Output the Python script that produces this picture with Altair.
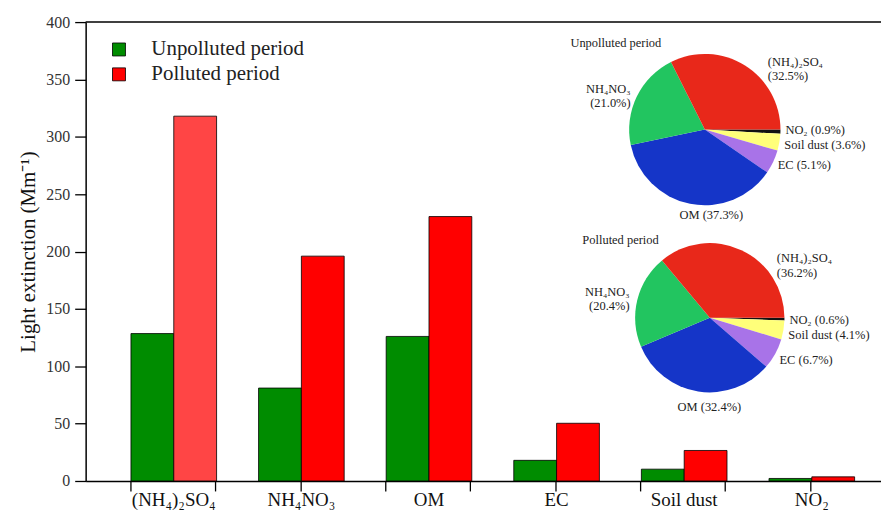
import math
import altair as alt
import pandas as pd

# ---------------- data ----------------
categories = ["(NH₄)₂SO₄", "NH₄NO₃", "OM", "EC", "Soil dust", "NO₂"]
unpolluted = [128.5, 81, 126, 18, 10.3, 2.2]
polluted = [318, 196, 230.5, 50.3, 26.6, 3.6]
periods = ["Unpolluted period", "Polluted period"]

pie_components = ["NO₂", "Soil dust", "EC", "OM", "NH₄NO₃", "(NH₄)₂SO₄"]
pie_unpolluted = [0.9, 3.6, 5.1, 37.3, 21.0, 32.5]
pie_polluted = [0.6, 4.1, 6.7, 32.4, 20.4, 36.2]

x_tick_marks = list(range(9))
y_ticks = list(range(0, 401, 50))

SERIF = "Liberation Serif"
BAR_COLORS = ["#008C00", "#FF0000"]
PIE_COLORS = ["#111111", "#FFFF7A", "#A873E8", "#1535C8", "#22C560", "#E8281A"]
PIE_FS = 12.5

# ---------------- bars ----------------
rows = []
for c, u, p in zip(categories, unpolluted, polluted):
    rows.append({"category": c, "period": periods[0], "value": u})
    rows.append({"category": c, "period": periods[1], "value": p})
bar_df = pd.DataFrame(rows)

bars = alt.Chart(bar_df).mark_bar(stroke="black", strokeWidth=0.8).encode(
    x=alt.X(
        "category:N", sort=categories,
        scale=alt.Scale(paddingInner=0.329, paddingOuter=0.281, align=0.632),
        axis=alt.Axis(title=None, ticks=False, labelAngle=0, labelFont=SERIF,
                      labelFontSize=19, labelColor="#111", labelPadding=10,
                      domainColor="black", domainWidth=1.5, grid=False),
    ),
    xOffset=alt.XOffset("period:N", sort=periods,
                        scale=alt.Scale(paddingInner=0, paddingOuter=0)),
    y=alt.Y(
        "value:Q", scale=alt.Scale(domain=[0, 400], nice=False),
        axis=alt.Axis(values=y_ticks, title="Light extinction (Mm⁻¹)", grid=False,
                      tickSize=11, tickColor="black", tickWidth=1.3, labelPadding=5,
                      labelFont=SERIF, labelFontSize=16, labelColor="#333",
                      titleFont=SERIF, titleFontSize=21, titleFontWeight="normal",
                      titleColor="#111", titlePadding=7,
                      domainColor="black", domainWidth=1.5),
    ),
    fill=alt.condition(
        (alt.datum.category == categories[0]) & (alt.datum.period == periods[1]),
        alt.value("#FF4545"),
        alt.Fill("period:N", sort=periods,
                 scale=alt.Scale(domain=periods, range=BAR_COLORS),
                 legend=alt.Legend(title=None, orient="none", legendX=23, legendY=17,
                                   symbolType="square", symbolSize=170,
                                   symbolStrokeColor="black", symbolStrokeWidth=0.8,
                                   labelFont=SERIF, labelFontSize=21, labelColor="#222",
                                   labelOffset=22, rowPadding=3, padding=0)),
    ),
)

tick_df = pd.DataFrame({"t": x_tick_marks})
ticks = alt.Chart(tick_df).mark_point(opacity=0).encode(
    x=alt.X("t:Q", scale=alt.Scale(domain=[-0.5274, 8.836], nice=False, zero=False),
            axis=alt.Axis(orient="bottom", values=x_tick_marks, labels=False,
                          domain=False, grid=False, ticks=True, tickSize=10,
                          tickColor="black", tickWidth=1.3, title=None)),
)

top_rule = alt.Chart(pd.DataFrame({"a": [0]})).mark_rule(
    color="black", strokeWidth=1.5).encode(y=alt.value(0))


# ---------------- pies ----------------
def pie_layers(values, cx, cy, r, title, title_dx, title_dy, adj):
    total = sum(values)
    mids, acc = [], 0.0
    for v in values:
        mids.append(acc + v / 2)
        acc += v
    labels = []
    for comp, v in zip(pie_components, values):
        if comp in ("(NH₄)₂SO₄", "NH₄NO₃"):
            labels.append(f"{comp}\n({v:.1f}%)")
        else:
            labels.append(f"{comp} ({v:.1f}%)")
    df = pd.DataFrame({"component": pie_components, "pct": values,
                       "ord": list(range(len(values))), "mid": mids, "label": labels})
    tscale = alt.Scale(domain=[0, total], range=[math.pi / 2, math.pi / 2 + 2 * math.pi])
    arc = alt.Chart(df).mark_arc(radius=r).encode(
        theta=alt.Theta("pct:Q", stack=True, scale=tscale),
        order=alt.Order("ord:Q"),
        color=alt.Color("component:N", scale=alt.Scale(domain=pie_components, range=PIE_COLORS),
                        legend=None),
        x=alt.value(cx), y=alt.value(cy),
    )
    layers = [arc]
    aligns = {"NO₂": "left", "Soil dust": "left", "EC": "left",
              "(NH₄)₂SO₄": "left", "NH₄NO₃": "right", "OM": "center"}
    for comp in pie_components:
        rad, dx, dy = adj[comp]
        t = alt.Chart(df).transform_filter(
            alt.FieldEqualPredicate(field="component", equal=comp)
        ).mark_text(radius=rad, align=aligns[comp], baseline="middle", dx=dx, dy=dy,
                    font=SERIF, fontSize=PIE_FS, color="#222", lineBreak="\n",
                    lineHeight=14.5).encode(
            theta=alt.Theta("mid:Q", stack=False, scale=tscale),
            text="label:N",
            x=alt.value(cx), y=alt.value(cy),
        )
        layers.append(t)
    ttl = alt.Chart(pd.DataFrame({"t": [title]})).mark_text(
        align="left", baseline="middle", font=SERIF, fontSize=PIE_FS, color="#222"
    ).encode(x=alt.value(cx + title_dx), y=alt.value(cy + title_dy), text="t:N")
    layers.append(ttl)
    return layers


pie1 = pie_layers(pie_unpolluted, 622, 108, 76, "Unpolluted period", -135, -87,
                  {"NO₂": (81, 0, -2), "Soil dust": (81, 0, 2), "EC": (81, 0, 1),
                   "(NH₄)₂SO₄": (88, 17, 7), "NH₄NO₃": (85, 2, -4), "OM": (84, 23, 3)})
pie2 = pie_layers(pie_polluted, 627, 297, 75, "Polluted period", -128, -78,
                  {"NO₂": (80, 0, 1), "Soil dust": (80, 0, 4), "EC": (80, 0, 4),
                   "(NH₄)₂SO₄": (88, 30, 20), "NH₄NO₃": (85, 2, -6), "OM": (86, 13, 5)})

chart = alt.layer(bars, ticks, top_rule, *pie1, *pie2).resolve_scale(
    x="independent", theta="independent"
).properties(
    width=799, height=461,
    padding={"left": 78, "top": 13, "right": 0, "bottom": 30},
    autosize=alt.AutoSizeParams(type="none"),
).configure(
    background="white", font=SERIF
).configure_view(stroke=None).configure_axis(
    labelFont=SERIF, titleFont=SERIF
).configure_legend(labelFont=SERIF)

chart.save("out.html", embed_options={"renderer": "svg", "actions": False})
